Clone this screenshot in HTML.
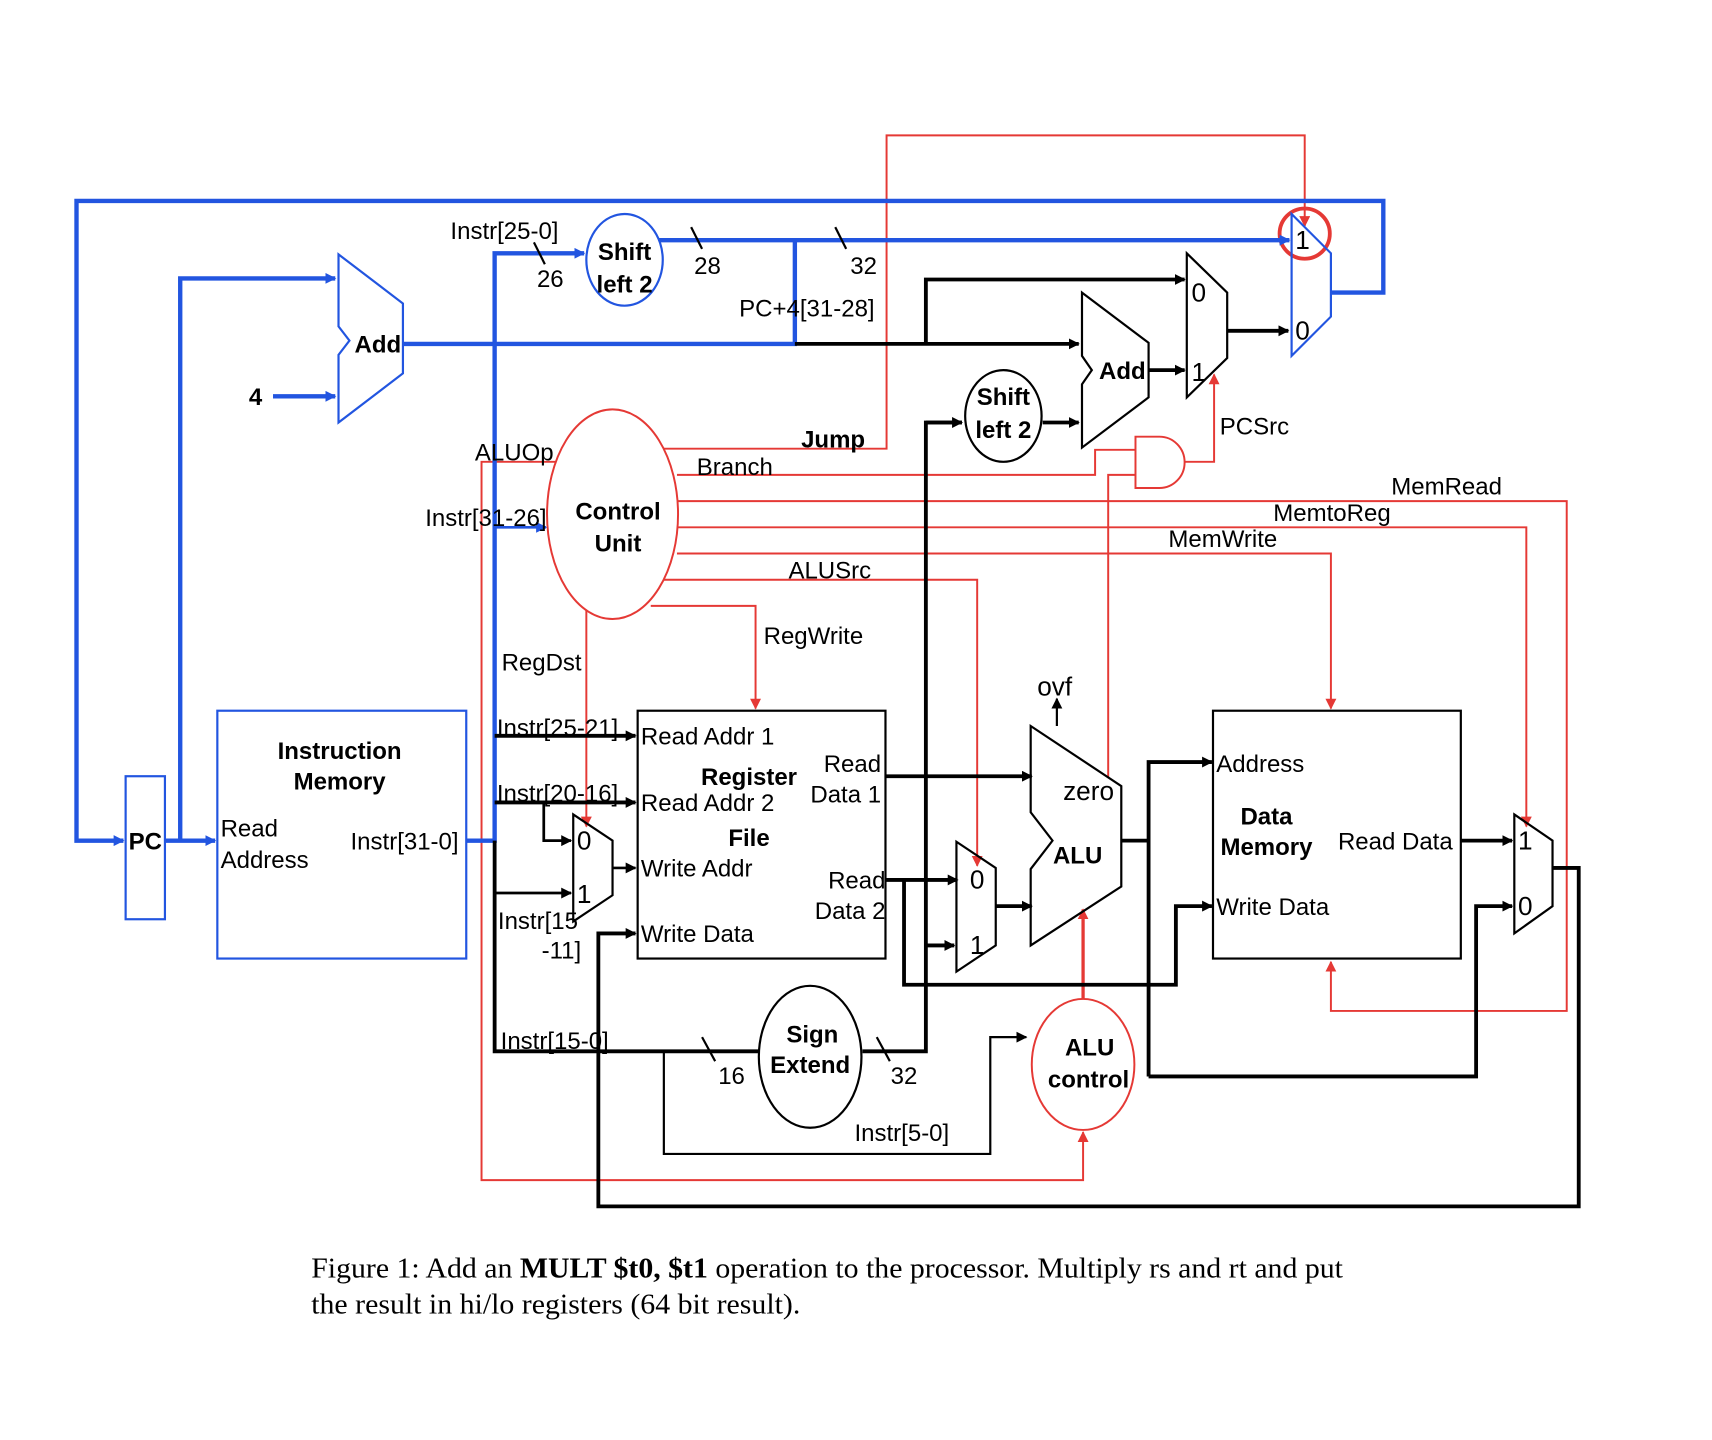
<!DOCTYPE html>
<html><head><meta charset="utf-8"><style>
html,body{margin:0;padding:0;background:#fff}
svg{display:block}
text{font-family:"Liberation Sans",sans-serif;font-size:22px;fill:#000}
.b{font-weight:bold}
.cap{font-family:"Liberation Serif",serif;font-size:26px}
</style></head><body>
<svg width="1712" height="1440" viewBox="0 0 1568 1319" xmlns="http://www.w3.org/2000/svg">
<defs>
<marker id="ak" markerWidth="10" markerHeight="10" refX="9" refY="5" orient="auto" markerUnits="userSpaceOnUse"><path d="M0,0 L10,5 L0,10 z" fill="#000"/></marker>
<marker id="ab" markerWidth="10" markerHeight="10" refX="9" refY="5" orient="auto" markerUnits="userSpaceOnUse"><path d="M0,0 L10,5 L0,10 z" fill="#2255e0"/></marker>
<marker id="ar" markerWidth="10" markerHeight="10" refX="9" refY="5" orient="auto" markerUnits="userSpaceOnUse"><path d="M0,0 L10,5 L0,10 z" fill="#e53935"/></marker>
</defs>

<g fill="none" stroke="#e53935" stroke-width="1.8">
<polyline points="608,411 812,411 812,124 1195,124 1195,207" marker-end="url(#ar)"/>
<polyline points="620,435 1003,435 1003,412 1040,412"/>
<polyline points="1040,435 1015,435 1015,712"/>
<path d="M1040,400 L1062,400 A23,23.5 0 0 1 1062,447 L1040,447 Z"/>
<polyline points="1085,423 1112,423 1112,343" marker-end="url(#ar)"/>
<polyline points="620,459 1435,459 1435,926 1219,926 1219,881" marker-end="url(#ar)"/>
<polyline points="620,483 1398,483 1398,757" marker-end="url(#ar)"/>
<polyline points="620,507 1219,507 1219,649" marker-end="url(#ar)"/>
<polyline points="608,531 895,531 895,793" marker-end="url(#ar)"/>
<polyline points="596,555 692,555 692,649" marker-end="url(#ar)"/>
<polyline points="537,557 537,757" marker-end="url(#ar)"/>
<polyline points="511,423 441,423 441,1081 992,1081 992,1037" marker-end="url(#ar)"/>
<ellipse cx="561" cy="471" rx="60" ry="96" fill="#fff"/>
<ellipse cx="992" cy="975" rx="47" ry="60"/>
<circle cx="1195" cy="214" r="23" stroke-width="3.5"/>
<polyline points="992,915 992,833" stroke-width="3" marker-end="url(#ar)"/>
</g>

<g fill="none" stroke="#2255e0" stroke-width="4">
<polyline points="1219,268 1267,268 1267,184 70,184 70,770 113,770" marker-end="url(#ab)"/>
<polyline points="151,770 197,770" marker-end="url(#ab)"/>
<polyline points="165,770 165,255 307,255" marker-end="url(#ab)"/>
<polyline points="250,363 307,363" marker-end="url(#ab)"/>
<polyline points="369,315 730,315"/>
<polyline points="728,315 728,220"/>
<polyline points="598,220 1181,220" marker-end="url(#ab)"/>
<polyline points="427,770 453,770 453,232 535,232" marker-end="url(#ab)"/>
<polyline points="453,483 500,483" stroke-width="2.5" marker-end="url(#ab)"/>
</g>
<g fill="none" stroke="#2255e0" stroke-width="2">
<rect x="115" y="711" width="36" height="131"/>
<rect x="199" y="651" width="228" height="227"/>
<polygon points="310,233 369,278 369,342 310,387 310,325 320,312 310,299"/>
<ellipse cx="572" cy="238" rx="35" ry="42" fill="#fff"/>
<polygon points="1183,196 1219,232 1219,290 1183,326"/>
</g>

<g fill="none" stroke="#000" stroke-width="3.5">
<polyline points="728,315 988,315" marker-end="url(#ak)"/>
<polyline points="848,315 848,256 1085,256" marker-end="url(#ak)"/>
<polyline points="1124,303 1180,303" marker-end="url(#ak)"/>
<polyline points="1052,339 1085,339" marker-end="url(#ak)"/>
<polyline points="955,387 988,387" marker-end="url(#ak)"/>
<polyline points="881,387 848,387 848,963 790,963"/>
<polyline points="848,387 881,387" marker-end="url(#ak)"/>
<polyline points="848,866 874,866" marker-end="url(#ak)"/>
<polyline points="453,770 453,963 695,963"/>
<polyline points="453,674 582,674" marker-end="url(#ak)"/>
<polyline points="453,735 582,735" marker-end="url(#ak)"/>
<polyline points="498,735 498,770 523,770" stroke-width="2.5" marker-end="url(#ak)"/>
<polyline points="453,818 523,818" stroke-width="2.5" marker-end="url(#ak)"/>
<polyline points="561,795 582,795" stroke-width="2.5" marker-end="url(#ak)"/>
<polyline points="1422,795 1446,795 1446,1105 548,1105 548,855 582,855" marker-end="url(#ak)"/>
<polyline points="811,711 945,711" marker-end="url(#ak)"/>
<polyline points="811,806 877,806" marker-end="url(#ak)"/>
<polyline points="828,806 828,902 1077,902 1077,830 1110,830" marker-end="url(#ak)"/>
<polyline points="912,830 945,830" marker-end="url(#ak)"/>
<polyline points="1027,770 1052,770"/>
<polyline points="1052,986 1052,698 1110,698" marker-end="url(#ak)"/>
<polyline points="1052,986 1352,986 1352,830 1385,830" marker-end="url(#ak)"/>
<polyline points="1338,770 1385,770" marker-end="url(#ak)"/>
</g>
<g fill="none" stroke="#000" stroke-width="2">
<polyline points="608,963 608,1057 907,1057 907,950 940,950" marker-end="url(#ak)"/>
<polyline points="968,665 968,640" marker-end="url(#ak)"/>
<polygon points="1087,232 1124,268 1124,328 1087,364"/>
<polygon points="991,268 1052,314 1052,364 991,410 991,352 1000,339 991,326" fill="#fff"/>
<ellipse cx="919" cy="381" rx="35" ry="42" fill="#fff"/>
<ellipse cx="742" cy="968" rx="47" ry="65" fill="#fff"/>
<rect x="584" y="651" width="227" height="227"/>
<polygon points="525,746 561,770 561,820 525,844"/>
<polygon points="876,771 912,795 912,866 876,890"/>
<polygon points="944,665 1027,720 1027,812 944,866 944,796 964,770 944,744"/>
<rect x="1111" y="651" width="227" height="227"/>
<polygon points="1387,746 1422,770 1422,830 1387,855"/>
<line x1="633" y1="208" x2="643" y2="228"/>
<line x1="765" y1="208" x2="775" y2="228"/>
<line x1="489" y1="222" x2="499" y2="242"/>
<line x1="643" y1="950" x2="655" y2="972"/>
<line x1="803" y1="950" x2="815" y2="972"/>
</g>

<text x="133" y="778" class="b" text-anchor="middle">PC</text>
<text x="234" y="371" class="b" text-anchor="middle">4</text>
<text x="346" y="323" class="b" text-anchor="middle">Add</text>
<text x="311" y="695" class="b" text-anchor="middle">Instruction</text>
<text x="311" y="723" class="b" text-anchor="middle">Memory</text>
<text x="202" y="766">Read</text>
<text x="202" y="795">Address</text>
<text x="321" y="778">Instr[31-0]</text>
<text x="572" y="238" class="b" text-anchor="middle">Shift</text>
<text x="572" y="268" class="b" text-anchor="middle">left 2</text>
<text x="462" y="219" text-anchor="middle">Instr[25-0]</text>
<text x="504" y="263" text-anchor="middle">26</text>
<text x="648" y="251" text-anchor="middle">28</text>
<text x="791" y="251" text-anchor="middle">32</text>
<text x="739" y="290" text-anchor="middle">PC+4[31-28]</text>
<text x="1193" y="228" text-anchor="middle" style="font-size:24px">1</text>
<text x="1193" y="311" text-anchor="middle" style="font-size:24px">0</text>
<text x="1098" y="276" text-anchor="middle" style="font-size:24px">0</text>
<text x="1098" y="349" text-anchor="middle" style="font-size:24px">1</text>
<text x="1028" y="347" class="b" text-anchor="middle">Add</text>
<text x="919" y="371" class="b" text-anchor="middle">Shift</text>
<text x="919" y="401" class="b" text-anchor="middle">left 2</text>
<text x="1149" y="398" text-anchor="middle">PCSrc</text>
<text x="763" y="410" class="b" text-anchor="middle">Jump</text>
<text x="673" y="435" text-anchor="middle">Branch</text>
<text x="471" y="422" text-anchor="middle">ALUOp</text>
<text x="445" y="482" text-anchor="middle">Instr[31-26]</text>
<text x="566" y="476" class="b" text-anchor="middle">Control</text>
<text x="566" y="505" class="b" text-anchor="middle">Unit</text>
<text x="1325" y="453" text-anchor="middle">MemRead</text>
<text x="1220" y="477" text-anchor="middle">MemtoReg</text>
<text x="1120" y="501" text-anchor="middle">MemWrite</text>
<text x="760" y="530" text-anchor="middle">ALUSrc</text>
<text x="745" y="590" text-anchor="middle">RegWrite</text>
<text x="496" y="614" text-anchor="middle">RegDst</text>
<text x="455" y="674">Instr[25-21]</text>
<text x="455" y="734">Instr[20-16]</text>
<text x="456" y="851">Instr[15</text>
<text x="496" y="878">-11]</text>
<text x="535" y="778" text-anchor="middle" style="font-size:24px">0</text>
<text x="535" y="827" text-anchor="middle" style="font-size:24px">1</text>
<text x="587" y="682">Read Addr 1</text>
<text x="587" y="743">Read Addr 2</text>
<text x="587" y="803">Write Addr</text>
<text x="587" y="863">Write Data</text>
<text x="686" y="719" class="b" text-anchor="middle">Register</text>
<text x="686" y="775" class="b" text-anchor="middle">File</text>
<text x="807" y="707" text-anchor="end">Read</text>
<text x="807" y="735" text-anchor="end">Data 1</text>
<text x="811" y="814" text-anchor="end">Read</text>
<text x="811" y="842" text-anchor="end">Data 2</text>
<text x="895" y="814" text-anchor="middle" style="font-size:24px">0</text>
<text x="895" y="874" text-anchor="middle" style="font-size:24px">1</text>
<text x="966" y="637" text-anchor="middle" style="font-size:24px">ovf</text>
<text x="997" y="733" text-anchor="middle" style="font-size:24px">zero</text>
<text x="987" y="791" class="b" text-anchor="middle">ALU</text>
<text x="1114" y="707">Address</text>
<text x="1160" y="755" class="b" text-anchor="middle">Data</text>
<text x="1160" y="783" class="b" text-anchor="middle">Memory</text>
<text x="1278" y="778" text-anchor="middle">Read Data</text>
<text x="1114" y="838">Write Data</text>
<text x="1397" y="778" text-anchor="middle" style="font-size:24px">1</text>
<text x="1397" y="838" text-anchor="middle" style="font-size:24px">0</text>
<text x="508" y="961" text-anchor="middle">Instr[15-0]</text>
<text x="670" y="993" text-anchor="middle">16</text>
<text x="828" y="993" text-anchor="middle">32</text>
<text x="744" y="955" class="b" text-anchor="middle">Sign</text>
<text x="742" y="983" class="b" text-anchor="middle">Extend</text>
<text x="826" y="1045" text-anchor="middle">Instr[5-0]</text>
<text x="998" y="967" class="b" text-anchor="middle">ALU</text>
<text x="997" y="996" class="b" text-anchor="middle">control</text>
<text x="285" y="1170" class="cap" textLength="945" lengthAdjust="spacingAndGlyphs">Figure 1:  Add an <tspan font-weight="bold">MULT $t0, $t1</tspan> operation to the processor. Multiply rs and rt and put</text>
<text x="285" y="1203" class="cap" textLength="448" lengthAdjust="spacingAndGlyphs">the result in hi/lo registers (64 bit result).</text>
</svg>
</body></html>
